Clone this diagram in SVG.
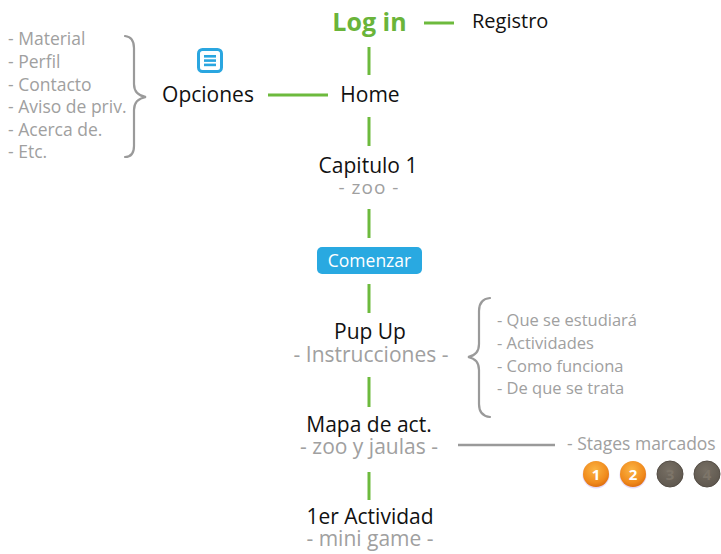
<svg xmlns="http://www.w3.org/2000/svg" width="721" height="554" viewBox="0 0 721 554">
<style>
.t{font-family:"Open Sans","DejaVu Sans",sans-serif;fill:#111;font-size:21px}
.s{font-family:"Open Sans","DejaVu Sans",sans-serif;fill:#a0a0a0;font-size:21px}
.l{font-family:"Open Sans","DejaVu Sans",sans-serif;fill:#a0a0a0;font-size:17.5px}
.r{font-family:"Open Sans","DejaVu Sans",sans-serif;fill:#a0a0a0;font-size:16.5px}
.g{stroke:#6dba3d;stroke-width:3;fill:none}
.b{stroke:#9a9a9a;stroke-width:2.2;fill:none;stroke-linecap:round}
.n{font-family:"Open Sans","DejaVu Sans",sans-serif;font-weight:bold;font-size:15px;text-anchor:middle}
</style>
<defs>
<radialGradient id="or" cx="0.45" cy="0.35" r="0.7">
<stop offset="0" stop-color="#fbb544"/>
<stop offset="0.7" stop-color="#f08a1c"/>
<stop offset="1" stop-color="#d9680c"/>
</radialGradient>
<radialGradient id="gr" cx="0.45" cy="0.35" r="0.7">
<stop offset="0" stop-color="#776f64"/>
<stop offset="1" stop-color="#5d564d"/>
</radialGradient>
</defs>

<g id="connectors">
<line class="g" x1="424" y1="23" x2="454" y2="23"/>
<line class="g" x1="369" y1="47" x2="369" y2="75"/>
<line class="g" x1="268" y1="95" x2="328" y2="95"/>
<line class="g" x1="369" y1="117" x2="369" y2="146"/>
<line class="g" x1="369" y1="209" x2="369" y2="238"/>
<line class="g" x1="369" y1="284" x2="369" y2="313"/>
<line class="g" x1="369" y1="377" x2="369" y2="407"/>
<line class="g" x1="369" y1="472" x2="369" y2="500"/>
<line x1="458" y1="445" x2="555" y2="445" stroke="#9a9a9a" stroke-width="2.5"/>
<path class="b" d="M125,36 Q134,37 134,48 L134,84 Q134,95 146,97 Q134,99 134,110 L134,146 Q134,157 125,157"/>
<path class="b" d="M490,298 Q479,299 479,311 L479,344 Q479,355 468,357 Q479,359 479,370 L479,404 Q479,416 490,417"/>
</g>

<g id="login">
<text x="369.5" y="31" text-anchor="middle" style="font-family:'Open Sans','DejaVu Sans',sans-serif;font-weight:bold;font-size:25px;fill:#6ab43a">Log in</text>
</g>
<g id="registro">
<text class="t" x="472" y="28" style="font-size:20px">Registro</text>
</g>
<g id="home">
<text class="t" x="370" y="102" text-anchor="middle">Home</text>
</g>
<g id="opciones">
<rect x="198.5" y="49.5" width="23" height="22" rx="4" fill="#fff" stroke="#2aa6e0" stroke-width="3"/>
<rect x="204" y="55" width="12" height="2.6" fill="#2aa6e0"/>
<rect x="204" y="59.3" width="12" height="2.6" fill="#2aa6e0"/>
<rect x="204" y="63.6" width="12" height="2.6" fill="#2aa6e0"/>
<text class="t" x="208" y="102" text-anchor="middle">Opciones</text>
</g>
<g id="opciones-list">
<text class="l" x="8" y="45">- Material</text>
<text class="l" x="8" y="68">- Perfil</text>
<text class="l" x="8" y="91">- Contacto</text>
<text class="l" x="8" y="113">- Aviso de priv.</text>
<text class="l" x="8" y="136">- Acerca de.</text>
<text class="l" x="8" y="158">- Etc.</text>
</g>
<g id="capitulo">
<text class="t" x="368" y="173" text-anchor="middle">Capitulo 1</text>
<text class="s" x="369" y="194" text-anchor="middle" style="font-size:19px;letter-spacing:1px">- zoo -</text>
</g>
<g id="comenzar">
<rect x="317" y="247" width="105" height="27" rx="5" fill="#29a9e1"/>
<text x="369.5" y="267" text-anchor="middle" style="font-family:'Open Sans','DejaVu Sans',sans-serif;font-size:17.5px;fill:#fff">Comenzar</text>
</g>
<g id="pupup">
<text class="t" x="370" y="339" text-anchor="middle">Pup Up</text>
<text class="s" x="371" y="362" text-anchor="middle">- Instrucciones -</text>
</g>
<g id="pupup-list">
<text class="r" x="497" y="326">- Que se estudiará</text>
<text class="r" x="497" y="349">- Actividades</text>
<text class="r" x="497" y="372">- Como funciona</text>
<text class="r" x="497" y="394">- De que se trata</text>
</g>
<g id="mapa">
<text class="t" x="369" y="432" text-anchor="middle">Mapa de act.</text>
<text class="s" x="369" y="454" text-anchor="middle">- zoo y jaulas -</text>
</g>
<g id="stages">
<text class="l" x="567" y="450" style="font-size:17.5px">- Stages marcados</text>
<circle cx="596" cy="475" r="13.5" fill="#d8c8f0" opacity="0.7"/>
<circle cx="596" cy="474" r="13" fill="url(#or)"/>
<text class="n" x="596" y="480" fill="#fff">1</text>
<circle cx="633" cy="475" r="13.5" fill="#d8c8f0" opacity="0.7"/>
<circle cx="633" cy="474" r="13" fill="url(#or)"/>
<text class="n" x="633" y="480" fill="#fff">2</text>
<circle cx="670" cy="474" r="13" fill="url(#gr)" stroke="#544d45" stroke-width="1"/>
<text class="n" x="670" y="480" fill="#7d7569">3</text>
<circle cx="707" cy="474" r="13" fill="url(#gr)" stroke="#544d45" stroke-width="1"/>
<text class="n" x="707" y="480" fill="#7d7569">4</text>
</g>
<g id="actividad">
<text class="t" x="370" y="524" text-anchor="middle">1er Actividad</text>
<text class="s" x="370" y="546" text-anchor="middle">- mini game -</text>
</g>
</svg>
